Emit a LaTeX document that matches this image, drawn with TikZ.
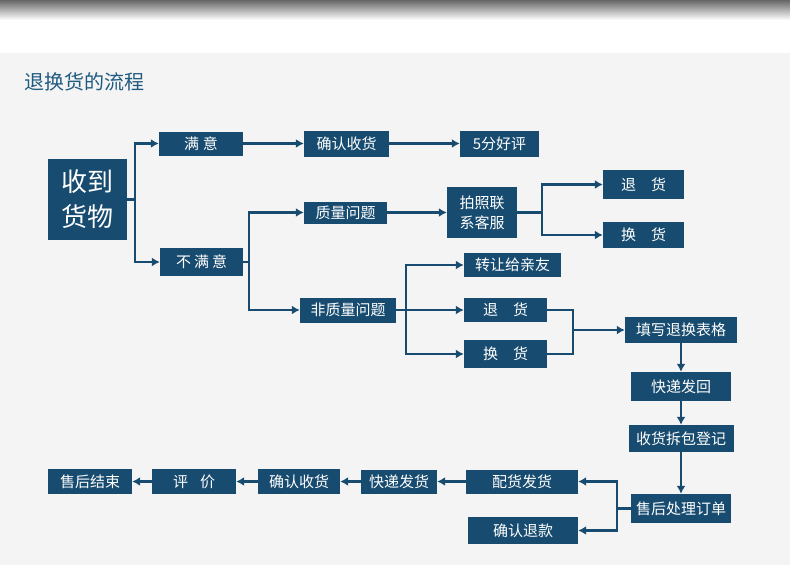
\documentclass[tikz,border=0pt]{standalone}
\usepackage{fontspec}
\setmainfont{Noto Sans CJK SC}
\usetikzlibrary{arrows.meta}
\definecolor{Navy}{HTML}{174B6F}
\definecolor{Paper}{HTML}{F4F4F4}
\definecolor{Ink}{HTML}{1F5A80}

\begin{document}
\begin{tikzpicture}[x=1pt, y=-1pt,
    box/.style={fill=Navy, text=white, inner sep=0pt, font=\fontsize{15}{18}\selectfont},
    line/.style={draw=Navy, line width=2.2pt},
    arrow/.style={line, -{Latex[length=8pt, width=9pt]}}
  ]
  \useasboundingbox (0,0) rectangle (790,565);
  % page background
  \fill[white] (0,0) rectangle (790,53);
  \shade[top color=black!60, bottom color=white] (0,0) rectangle (790,20);
  \fill[Paper] (0,53) rectangle (790,565);
  \node[anchor=west, text=Ink, inner sep=0pt, font=\fontsize{20}{23}\selectfont] (title) at (24,82) {退换货的流程};

  % first level
  \node[box, minimum width=79pt, minimum height=81pt, align=center,
        font=\fontsize{26}{35}\selectfont] (recv) at (87.5,199.5) {收到\\货物};
  \node[box, minimum width=84pt, minimum height=24pt] (ok) at (201,143.5) {满\hspace{4pt}意};
  \node[box, minimum width=83pt, minimum height=28pt] (notok) at (201.5,262) {不\hspace{3pt}满\hspace{3pt}意};

  % satisfied
  \node[box, minimum width=85pt, minimum height=26pt] (confirm) at (346.5,143.5) {确认收货};
  \node[box, minimum width=79pt, minimum height=26pt] (praise) at (499.5,143.5) {5分好评};

  % quality problem
  \node[box, minimum width=83pt, minimum height=22pt] (quality) at (345.5,212.5) {质量问题};
  \node[box, minimum width=70pt, minimum height=51pt, align=center,
        font=\fontsize{15}{20}\selectfont] (photo) at (482,212.5) {拍照联\\系客服};
  \node[box, minimum width=81pt, minimum height=29pt] (retA) at (643.5,184.5) {退\hspace{1em}货};
  \node[box, minimum width=81pt, minimum height=26pt] (exchA) at (643.5,235) {换\hspace{1em}货};

  % non-quality problem
  \node[box, minimum width=96pt, minimum height=25pt] (nonq) at (348,310) {非质量问题};
  \node[box, minimum width=97pt, minimum height=24pt] (gift) at (512.5,265) {转让给亲友};
  \node[box, minimum width=83pt, minimum height=24pt] (retB) at (505.5,310) {退\hspace{1em}货};
  \node[box, minimum width=83pt, minimum height=28pt] (exchB) at (505.5,354) {换\hspace{1em}货};

  % return handling
  \node[box, minimum width=112pt, minimum height=26pt] (form) at (681,330) {填写退换表格};
  \node[box, minimum width=100pt, minimum height=29pt] (sendback) at (681,386.5) {快递发回};
  \node[box, minimum width=105pt, minimum height=27pt] (unpack) at (681,438.5) {收货拆包登记};
  \node[box, minimum width=100pt, minimum height=29pt] (order) at (681,508.5) {售后处理订单};
  \node[box, minimum width=112pt, minimum height=24pt] (ship) at (522,481.5) {配货发货};
  \node[box, minimum width=110pt, minimum height=27pt] (refund) at (523,530.5) {确认退款};
  \node[box, minimum width=76pt, minimum height=24pt] (express) at (399,481.5) {快递发货};
  \node[box, minimum width=82pt, minimum height=25pt] (confirmB) at (299,481.5) {确认收货};
  \node[box, minimum width=84pt, minimum height=25pt] (rate) at (194,481.5) {评\hspace{12pt}价};
  \node[box, minimum width=84pt, minimum height=25pt] (finish) at (90,481.5) {售后结束};

  % connectors
  \draw[line] (recv.east) -- ++(8,0) coordinate (jRecv);
  \draw[arrow] (jRecv) |- (ok);
  \draw[arrow] (jRecv) |- (notok);
  \draw[arrow] (ok) -- (confirm);
  \draw[arrow] (confirm) -- (praise);

  \draw[line] (notok.east) -- ++(6,0) coordinate (jNot);
  \draw[arrow] (jNot) |- (quality);
  \draw[arrow] (jNot) |- (nonq);

  \draw[arrow] (quality) -- (photo);
  \draw[line] (photo.east) -- ++(25,0) coordinate (jPhoto);
  \draw[arrow] (jPhoto) |- (retA);
  \draw[arrow] (jPhoto) |- (exchA);

  \draw[line] (nonq.east) -- ++(10,0) coordinate (jNonq);
  \draw[arrow] (jNonq) |- (gift);
  \draw[arrow] (jNonq) |- (retB);
  \draw[arrow] (jNonq) |- (exchB);

  \draw[line] (retB.east) -- ++(26,0) |- (exchB.east);
  \coordinate (jForm) at (573,330);
  \draw[arrow] (jForm) -- (form);

  \draw[arrow] (form) -- (sendback);
  \draw[arrow] (sendback) -- (unpack);
  \draw[arrow] (unpack) -- (order);

  \draw[line] (order.west) -- ++(-14,0) coordinate (jOrder);
  \draw[arrow] (jOrder) |- (ship);
  \draw[arrow] (jOrder) |- (refund);

  \draw[arrow] (ship) -- (express);
  \draw[arrow] (express) -- (confirmB);
  \draw[arrow] (confirmB) -- (rate);
  \draw[arrow] (rate) -- (finish);
\end{tikzpicture}
\end{document}
